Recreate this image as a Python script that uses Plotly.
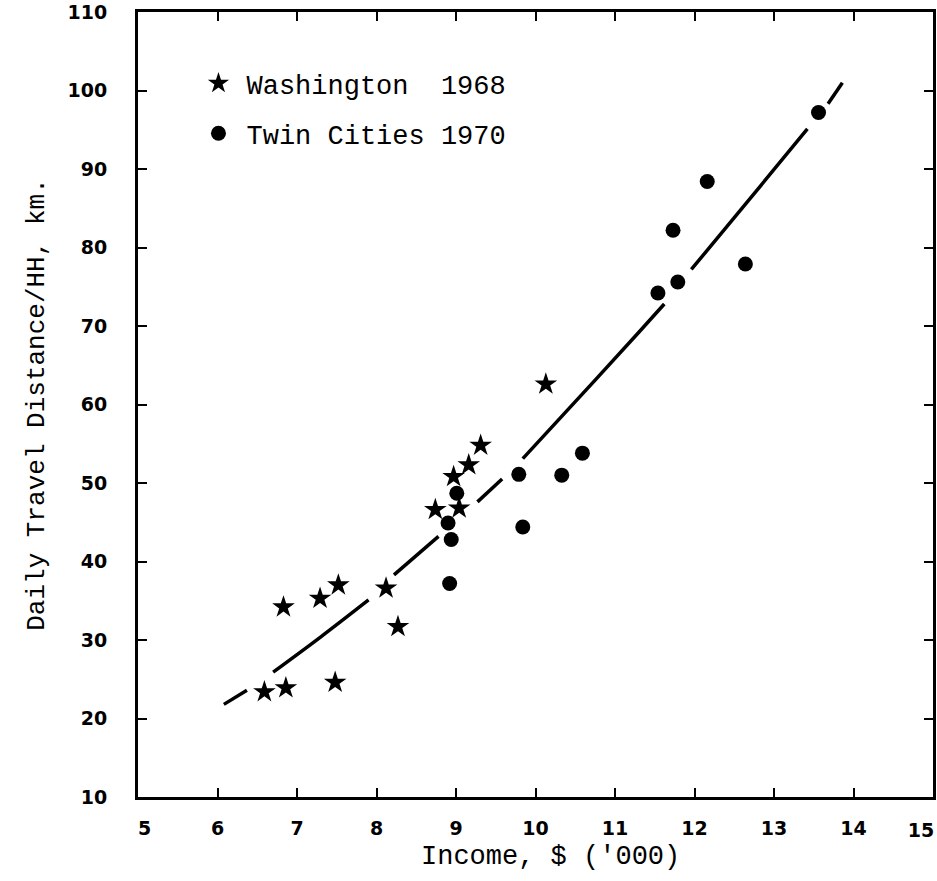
import plotly.graph_objects as go

# Washington 1968 (stars)
wash_x = [6.59, 6.86, 7.48, 6.83, 7.29, 7.52, 8.12, 8.27, 8.74, 9.04, 8.97, 9.16, 9.31, 10.13]
wash_y = [23.4, 23.9, 24.6, 34.2, 35.3, 37.0, 36.6, 31.7, 46.6, 46.8, 50.8, 52.3, 54.8, 62.6]

# Twin Cities 1970 (dots)
twin_x = [8.92, 8.94, 8.90, 9.01, 9.79, 9.84, 10.33, 10.59, 11.54, 11.79, 11.73, 12.16, 12.64, 13.56]
twin_y = [37.2, 42.8, 44.9, 48.7, 51.1, 44.4, 51.0, 53.8, 74.2, 75.6, 82.2, 88.4, 77.9, 97.2]

# Fitted curve; None marks the breaks in the drawn line
curve_x = [6.08, 6.37, None, 6.70, 7.30, 7.90, None, 8.22, 8.78, None, 9.27, 9.58, None,
           9.84, 10.75, 11.30, 11.62, None, 11.96, 12.68, 13.42, None, 13.68, 13.86]
curve_y = [21.8, 23.6, None, 25.9, 30.4, 35.1, None, 38.3, 43.2, None, 47.6, 50.5, None,
           53.1, 63.1, 69.2, 72.8, None, 77.2, 86.0, 95.1, None, 98.3, 101.0]

NB = "\u00a0"
x_tickvals = [5, 6, 7, 8, 9, 10, 11, 12, 13, 14, 15]
x_ticktext = [NB * 2 + "5", "6", "7", "8", "9", "10", "11", "12", "13", "14", "15"]
y_tickvals = [10, 20, 30, 40, 50, 60, 70, 80, 90, 100, 110]
y_ticktext = ["10", "20", "30", "40", "50", "60", "70", "80", "90", "100", "110"]

TYPE = "Liberation Mono"
TICKF = dict(family="DejaVu Sans", size=19, color="black", weight="bold")

fig = go.Figure()
fig.add_trace(go.Scatter(x=curve_x, y=curve_y, mode="lines", line=dict(color="black", width=3.5, shape="spline"),
                         connectgaps=False, showlegend=False, hoverinfo="skip"))
fig.add_trace(go.Scatter(x=wash_x, y=wash_y, mode="markers", name="Washington  1968", legendgroup="a",
                         marker=dict(symbol="star", size=17, color="black", line=dict(width=0))))
fig.add_trace(go.Scatter(x=twin_x, y=twin_y, mode="markers", name="Twin Cities 1970", legendgroup="b",
                         marker=dict(symbol="circle", size=15, color="black", line=dict(width=0))))

axis_common = dict(showline=True, linecolor="black", linewidth=3, mirror="ticks", ticks="inside",
                   ticklen=9, tickwidth=2, tickcolor="black", showgrid=False, zeroline=False,
                   tickfont=TICKF, automargin=False)

# main x axis: all ticks, labels except the last one (drawn on an overlay axis, nudged inward)
fig.update_xaxes(range=[5, 15], tickmode="array", tickvals=x_tickvals,
                 ticktext=x_ticktext[:-1] + [""], ticklabelstandoff=12, **axis_common)
fig.update_yaxes(range=[10, 110], tickmode="array", tickvals=y_tickvals, ticktext=y_ticktext,
                 ticklabelstandoff=24,
                 title=dict(text="Daily Travel Distance/HH, km.", font=dict(family=TYPE, size=26, color="black"), standoff=16),
                 **axis_common)

fig.update_layout(
    xaxis2=dict(overlaying="x", anchor="y", side="bottom", range=[5, 15], tickmode="array",
                tickvals=x_tickvals[-1:], ticktext=x_ticktext[-1:], ticks="inside", ticklen=9,
                tickwidth=2, tickcolor="rgba(0,0,0,0)", showline=False,
                showgrid=False, zeroline=False, tickfont=TICKF, ticklabelstandoff=20,
                ticklabelshift=-12, automargin=False),
)
fig.add_trace(go.Scatter(x=[None], y=[None], xaxis="x2", yaxis="y", showlegend=False, hoverinfo="skip"))

fig.add_annotation(text="Income, $ ('000)", xref="paper", yref="paper", x=0.519, y=0,
                   yshift=-60, xanchor="center", yanchor="middle", showarrow=False,
                   font=dict(family=TYPE, size=27, color="black"))

fig.update_layout(
    width=937, height=881,
    margin=dict(l=138, r=4, t=12, b=84, autoexpand=False),
    paper_bgcolor="white", plot_bgcolor="white",
    showlegend=True,
    legend=dict(x=0.066, y=0.94, xanchor="left", yanchor="top", bgcolor="rgba(0,0,0,0)",
                font=dict(family=TYPE, size=27, color="black"), tracegroupgap=12, itemwidth=46),
)

fig.write_html("out.html")
